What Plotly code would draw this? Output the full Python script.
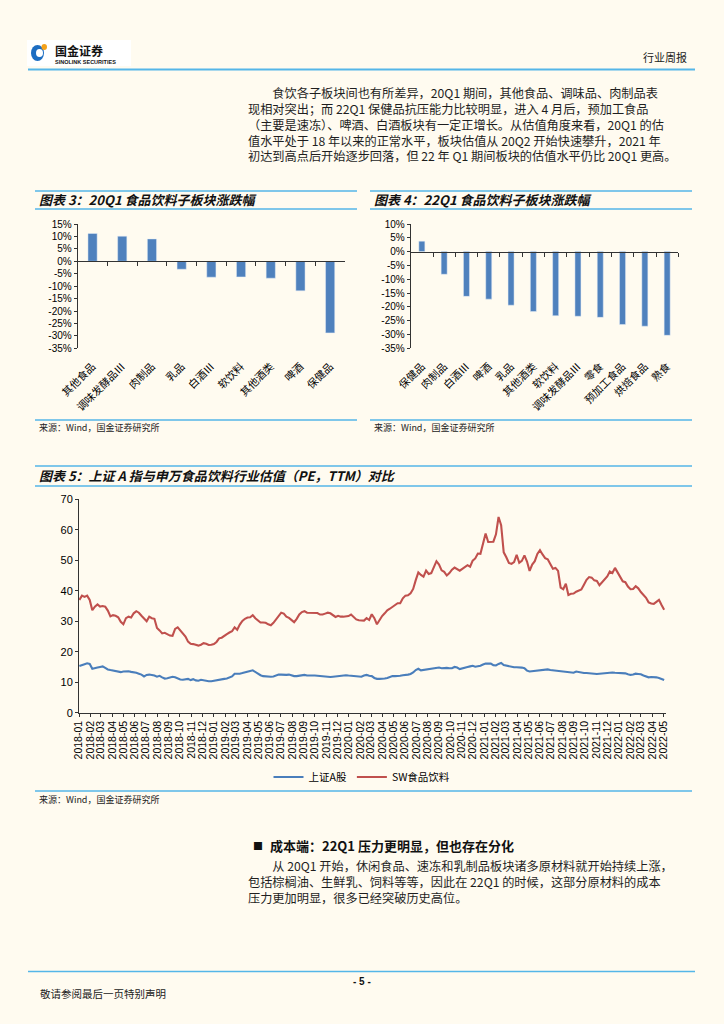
import plotly.graph_objects as go
import pandas as pd

W, H = 724, 1024
BG = "#FFFBF0"
SKY = "#55B6E8"
BAR = "#4F81BD"
LBLUE = "#4A7EBB"
RED = "#C0504D"
AX = "#333333"
TXT = "#1E1E1E"
CJK = "Noto Sans CJK SC"
LAT = "Liberation Sans, Arial, sans-serif"

# ---------------- data ----------------
cats_20q1 = ["其他食品", "调味发酵品Ⅲ", "肉制品", "乳品", "白酒Ⅲ", "软饮料", "其他酒类", "啤酒", "保健品"]
chg_20q1 = [11.2, 10.1, 9.0, -3.2, -6.4, -6.3, -6.8, -11.9, -28.8]

cats_22q1 = ["保健品", "肉制品", "白酒Ⅲ", "啤酒", "乳品", "其他酒类", "软饮料",
             "调味发酵品Ⅲ", "零食", "预加工食品", "烘焙食品", "熟食"]
chg_22q1 = [3.8, -8.2, -16.2, -17.2, -19.4, -21.7, -23.2, -23.4, -23.8, -26.4, -27.0, -30.3]

pct_ticks_a = [15, 10, 5, 0, -5, -10, -15, -20, -25, -30, -35]
pct_ticks_b = [10, 5, 0, -5, -10, -15, -20, -25, -30, -35]

month_labels = [
    "2018-01", "2018-02", "2018-03", "2018-04", "2018-05", "2018-06", "2018-07", "2018-08",
    "2018-09", "2018-10", "2018-11", "2018-12",
    "2019-01", "2019-02", "2019-03", "2019-04", "2019-05", "2019-06", "2019-07", "2019-08",
    "2019-09", "2019-10", "2019-11", "2019-12",
    "2020-01", "2020-02", "2020-03", "2020-04", "2020-05", "2020-06", "2020-07", "2020-08",
    "2020-09", "2020-10", "2020-11", "2020-12",
    "2021-01", "2021-02", "2021-03", "2021-04", "2021-05", "2021-06", "2021-07", "2021-08",
    "2021-09", "2021-10", "2021-11", "2021-12",
    "2022-01", "2022-02", "2022-03", "2022-04", "2022-05",
]

# weekly PE (TTM), first week 2018-01-02
sw_food_pe = [
    37.0, 38.4, 38.0, 38.4, 37.0, 33.6, 34.8, 35.5, 34.8, 35.0,
    34.8, 33.5, 31.6, 32.0, 31.8, 31.3, 29.8, 29.0, 31.0, 31.5,
    31.2, 32.6, 33.3, 32.8, 31.8, 31.0, 30.0, 31.5, 31.0, 30.8,
    27.8, 27.0, 26.0, 26.2, 25.8, 25.3, 25.2, 27.5, 28.0, 27.0,
    25.8, 25.0, 23.3, 22.6, 22.5, 22.2, 22.0, 22.3, 22.8, 22.6,
    22.2, 22.3, 22.5, 23.2, 24.4, 24.6, 25.3, 25.8, 26.3, 26.7,
    28.0, 27.2, 28.9, 30.1, 30.8, 31.2, 31.3, 32.0, 31.0, 30.4,
    29.6, 29.6, 29.5, 29.0, 28.7, 29.5, 30.7, 31.8, 32.8, 32.5,
    31.5, 31.1, 30.3, 29.7, 30.8, 32.2, 33.0, 33.3, 32.8, 32.8,
    32.7, 32.7, 32.7, 32.2, 32.2, 32.5, 32.8, 32.6, 32.0, 31.4,
    31.8, 31.5, 31.5, 31.5, 31.7, 32.2, 31.5, 30.6, 30.3, 30.2,
    30.2, 31.0, 30.4, 32.3, 31.0, 29.0, 30.6, 31.7, 32.6, 33.6,
    34.1, 34.8, 35.5, 35.9, 35.9, 37.5, 38.4, 38.5, 39.2, 40.6,
    43.5, 46.0, 45.2, 44.6, 46.6, 45.5, 45.8, 47.9, 49.7, 48.6,
    46.7, 46.2, 45.0, 45.8, 46.9, 47.6, 47.2, 46.6, 47.2, 47.7,
    48.4, 47.9, 49.9, 50.6, 52.2, 52.1, 56.0, 58.8, 56.0, 56.1,
    56.1, 58.5, 64.2, 61.5, 52.6, 51.0, 49.1, 48.8, 49.4, 51.8,
    49.2, 49.8, 51.6, 49.6, 46.5, 48.6, 49.7, 52.1, 53.3, 51.9,
    50.7, 50.3, 48.8, 47.2, 47.5, 46.5, 41.0, 40.5, 42.3, 38.6,
    39.0, 39.1, 39.7, 40.0, 40.4, 42.0, 43.6, 44.5, 44.3, 43.4,
    43.2, 41.8, 42.8, 43.8, 44.7, 46.3, 45.8, 47.5, 46.1, 44.7,
    43.1, 42.8, 41.4, 40.5, 40.6, 41.5, 40.8, 39.6, 38.8, 37.7,
    36.2, 35.8, 35.7, 36.5, 37.0, 35.3, 33.8,
]
sh_a_pe = [
    15.3, 15.5, 15.9, 16.2, 16.0, 14.4, 14.7, 14.8, 15.0, 15.2,
    14.7, 14.2, 14.0, 13.8, 13.7, 13.5, 13.3, 13.5, 13.6, 13.6,
    13.4, 13.3, 13.1, 12.8, 12.5, 11.9, 12.4, 12.5, 12.4, 12.2,
    11.8, 12.1, 11.6, 11.2, 11.3, 11.6, 11.8, 11.6, 11.2, 10.9,
    10.8, 10.9, 11.1, 10.7, 11.0, 10.6, 10.5, 10.8, 10.6, 10.3,
    10.3, 10.3, 10.5, 10.7, 10.9, 11.0, 11.1, 11.2, 11.5, 11.9,
    12.8, 12.7, 12.8, 13.0, 13.3, 13.5, 13.7, 13.9, 13.3, 12.8,
    12.3, 12.0, 11.9, 11.8, 11.8, 11.9, 12.2, 12.5, 12.5, 12.4,
    12.4, 12.5, 12.2, 12.0, 12.0, 12.1, 12.3, 12.4, 12.2, 12.1,
    12.2, 12.2, 12.1, 12.0, 11.9, 11.8, 11.6, 11.7, 11.8, 11.9,
    12.0, 12.2, 12.4, 12.3, 12.2, 12.1, 12.0, 12.0, 11.9, 11.8,
    12.2, 12.4, 12.1, 12.0, 11.4, 11.1, 11.1, 11.1, 11.2, 11.4,
    11.7, 12.0, 12.0, 12.0, 12.1, 12.3, 12.3, 12.5, 12.7, 13.2,
    14.0, 14.4, 13.9, 14.0, 14.2, 14.4, 14.5, 14.6, 14.7, 14.8,
    14.6, 14.7, 14.7, 14.6, 14.6, 15.0, 14.8, 14.3, 14.6, 14.8,
    15.0, 15.2, 15.4, 15.1, 15.2, 15.4, 15.8, 16.1, 16.1, 16.1,
    15.6, 15.5, 16.0, 16.3, 15.6, 15.4, 15.3, 15.1, 14.9, 14.9,
    14.9, 14.8, 14.6, 13.8, 13.5, 13.6, 13.7, 13.9, 13.9, 13.9,
    14.0, 14.2, 14.0, 13.9, 13.9, 13.9, 13.7, 13.5, 13.4, 13.3,
    13.2, 13.1, 13.5, 13.3, 13.1, 13.0, 13.0, 13.0, 13.0, 12.8,
    12.7, 12.8, 12.8, 12.9, 13.0, 13.3, 13.2, 13.1, 13.1, 13.1,
    13.0, 12.9, 12.6, 12.4, 12.5, 12.8, 12.7, 12.6, 12.2, 11.9,
    11.6, 11.7, 11.7, 11.6, 11.4, 11.1, 10.7,
]
week_dates = pd.date_range("2018-01-02", periods=len(sw_food_pe), freq="7D")

para_top = [
    "食饮各子板块间也有所差异，20Q1 期间，其他食品、调味品、肉制品表",
    "现相对突出；而 22Q1 保健品抗压能力比较明显，进入 4 月后，预加工食品",
    "（主要是速冻）、啤酒、白酒板块有一定正增长。从估值角度来看，20Q1 的估",
    "值水平处于 18 年以来的正常水平，板块估值从 20Q2 开始快速攀升，2021 年",
    "初达到高点后开始逐步回落，但 22 年 Q1 期间板块的估值水平仍比 20Q1 更高。",
]
para_bottom = [
    "从 20Q1 开始，休闲食品、速冻和乳制品板块诸多原材料就开始持续上涨，",
    "包括棕榈油、生鲜乳、饲料等等，因此在 22Q1 的时候，这部分原材料的成本",
    "压力更加明显，很多已经突破历史高位。",
]


# ---------------- helpers ----------------
def px(x):
    return x / W


def py(y):
    return 1 - y / H


shapes = []
annotations = []


def hline(x0, x1, y, color=SKY, width=1.5):
    shapes.append(dict(type="line", xref="paper", yref="paper", x0=px(x0), x1=px(x1),
                       y0=py(y), y1=py(y), line=dict(color=color, width=width)))


def text(x, y, s, size=13, color=TXT, family=CJK, xanchor="left"):
    annotations.append(dict(xref="paper", yref="paper", x=px(x), y=py(y), text=s,
                            showarrow=False, xanchor=xanchor, yanchor="middle",
                            align="left", borderpad=0,
                            font=dict(size=size, color=color, family=family)))


def paragraph(lines):
    return "<br>".join(("\u3000\u3000" + ln) if i == 0 else ln for i, ln in enumerate(lines))


# ---------------- layout geometry ----------------
c3_x = (77.7, 345.0)
c4_x = (410.7, 678.3)
bar_y = (224.0, 348.3)
c5_x = (79.0, 666.0)
c5_y = (499.3, 712.7)


def zero_pos(top_val, bot_val):
    frac = (0 - bot_val) / (top_val - bot_val)
    return py(bar_y[1]) + frac * (py(bar_y[0]) - py(bar_y[1]))


fig = go.Figure()

fig.add_trace(go.Bar(x=cats_20q1, y=chg_20q1, marker=dict(color=BAR, line=dict(width=0)),
                     width=0.31, xaxis="x", yaxis="y", showlegend=False, hoverinfo="x+y"))
fig.add_trace(go.Bar(x=cats_20q1, y=chg_20q1, marker=dict(color="rgba(0,0,0,0)"),
                     width=0.31, xaxis="x3", yaxis="y", showlegend=False, hoverinfo="skip"))
fig.add_trace(go.Bar(x=cats_22q1, y=chg_22q1, marker=dict(color=BAR, line=dict(width=0)),
                     width=0.27, xaxis="x2", yaxis="y2", showlegend=False, hoverinfo="x+y"))
fig.add_trace(go.Bar(x=cats_22q1, y=chg_22q1, marker=dict(color="rgba(0,0,0,0)"),
                     width=0.27, xaxis="x4", yaxis="y2", showlegend=False, hoverinfo="skip"))

fig.add_trace(go.Scatter(x=week_dates, y=sh_a_pe, mode="lines", name="上证A股",
                         line=dict(color=LBLUE, width=2.1), xaxis="x5", yaxis="y5"))
fig.add_trace(go.Scatter(x=week_dates, y=sw_food_pe, mode="lines", name="SW食品饮料",
                         line=dict(color=RED, width=2.1), xaxis="x5", yaxis="y5"))


def cat_label_axis(dom, n, anchor):
    return dict(domain=[px(dom[0]), px(dom[1])], anchor=anchor, type="category",
                range=[-0.5, n - 0.5], automargin=False,
                showline=False, ticks="", tickangle=-45, showgrid=False, zeroline=False,
                tickfont=dict(family=CJK, size=10.5, color="#000"), ticklabelstandoff=9)


def zero_axis(over, pos, n):
    return dict(overlaying=over, anchor="free", position=pos, type="category",
                range=[-0.5, n - 0.5], tickson="boundaries", ticks="outside", ticklen=4,
                tickcolor=AX, showticklabels=False, showline=True, linecolor=AX, linewidth=1,
                showgrid=False, zeroline=False, automargin=False)


def pct_axis(anchor, ticks_list):
    return dict(domain=[py(bar_y[1]), py(bar_y[0])], anchor=anchor, automargin=False,
                range=[min(ticks_list), max(ticks_list)], tickmode="array",
                tickvals=ticks_list, ticktext=[f"{v}%" for v in ticks_list],
                showline=True, linecolor=AX, linewidth=1, ticks="outside", ticklen=3,
                tickcolor=AX, tickfont=dict(family=LAT, size=10, color="#000"),
                showgrid=False, zeroline=False)


fig.update_layout(
    width=W, height=H, autosize=False,
    margin=dict(l=0, r=0, t=0, b=0, pad=0),
    paper_bgcolor=BG, plot_bgcolor="rgba(0,0,0,0)",
    showlegend=True,
    xaxis=cat_label_axis(c3_x, len(cats_20q1), "y"),
    yaxis=pct_axis("x", pct_ticks_a),
    xaxis3=zero_axis("x", zero_pos(15, -35), len(cats_20q1)),
    xaxis2=cat_label_axis(c4_x, len(cats_22q1), "y2"),
    yaxis2=pct_axis("x2", pct_ticks_b),
    xaxis4=zero_axis("x2", zero_pos(10, -35), len(cats_22q1)),
    xaxis5=dict(domain=[px(c5_x[0]), px(c5_x[1])], anchor="y5", type="date",
                range=["2018-01-01", "2022-05-08"], tickmode="array",
                tickvals=[m + "-01" for m in month_labels], ticktext=month_labels,
                tickangle=-90, tickfont=dict(family=LAT, size=10.5, color="#000"),
                ticks="outside", ticklen=3, tickcolor=AX, showline=True, linecolor=AX,
                linewidth=1, showgrid=False, zeroline=False, automargin=False),
    yaxis5=dict(domain=[py(c5_y[1]), py(c5_y[0])], anchor="x5", range=[0, 70],
                tickmode="linear", tick0=0, dtick=10, ticks="outside", ticklen=3,
                tickcolor=AX, showline=True, linecolor=AX, linewidth=1,
                tickfont=dict(family=LAT, size=11, color="#000"),
                showgrid=False, zeroline=False, automargin=False),
    legend=dict(orientation="h", x=px(362), xanchor="center", y=py(777), yanchor="middle",
                bgcolor="rgba(0,0,0,0)", font=dict(family=CJK, size=10.5, color="#000"),
                itemwidth=30, tracegroupgap=0),
    hovermode="closest",
)

# ---------------- page decorations ----------------
# logo
shapes.append(dict(type="rect", xref="paper", yref="paper", x0=px(27), x1=px(131),
                   y0=py(66), y1=py(40), fillcolor="white", line=dict(width=0)))
shapes.append(dict(type="circle", xref="paper", yref="paper", x0=px(31), x1=px(44),
                   y0=py(61), y1=py(45), fillcolor="#1C6DC2", line=dict(width=0)))
shapes.append(dict(type="circle", xref="paper", yref="paper", x0=px(36), x1=px(43),
                   y0=py(57), y1=py(49), fillcolor="white", line=dict(width=0)))
shapes.append(dict(type="circle", xref="paper", yref="paper", x0=px(41.5), x1=px(47),
                   y0=py(50), y1=py(44), fillcolor="#F4A11B", line=dict(width=0)))
text(54, 50.5, "<b>国金证券</b>", size=12, color="#111")
text(54, 61.5, "<b>SINOLINK SECURITIES</b>", size=5.5, color="#111", family=LAT)
text(688, 57, "行业周报", size=11, color="#222", xanchor="right")
hline(28, 695, 69.5, width=2.2)

# top paragraph (one block, 5 lines)
text(247, 124.5, paragraph(para_top), size=12.2)

# chart 3
hline(35, 357, 191)
hline(35, 357, 209)
text(38, 199.5, "<b><i>图表 3：20Q1 食品饮料子板块涨跌幅</i></b>", size=13, color="#111")
hline(35, 357, 420)
text(38, 427.5, "来源：Wind，国金证券研究所", size=9, color="#222")

# chart 4
hline(370, 692, 191)
hline(370, 692, 209)
text(373, 199.5, "<b><i>图表 4：22Q1 食品饮料子板块涨跌幅</i></b>", size=13, color="#111")
hline(370, 692, 420)
text(373, 427.5, "来源：Wind，国金证券研究所", size=9, color="#222")

# chart 5
hline(35, 692, 466)
hline(35, 692, 486)
text(38, 475.5, "<b><i>图表 5：上证 A 指与申万食品饮料行业估值（PE，TTM）对比</i></b>",
     size=13, color="#111")
hline(35, 692, 791)
text(38, 799.5, "来源：Wind，国金证券研究所", size=9, color="#222")

# bottom section
text(252, 845, "■", size=10, color="#111")
text(269, 845, "<b>成本端：22Q1 压力更明显，但也存在分化</b>", size=13, color="#111")
text(247, 882, paragraph(para_bottom), size=12.2)

# footer
hline(28, 695, 971.5)
text(362, 981, "<b>- 5 -</b>", size=10, color="#111", family=LAT, xanchor="center")
text(39, 993, "敬请参阅最后一页特别声明", size=10.5, color="#222")

fig.update_layout(shapes=shapes, annotations=annotations)
fig.write_html(
    "out.html",
    config={"displayModeBar": False},
    post_script="document.body.style.margin='0px';document.body.style.padding='0px';"
                "document.documentElement.style.overflow='hidden';",
)
